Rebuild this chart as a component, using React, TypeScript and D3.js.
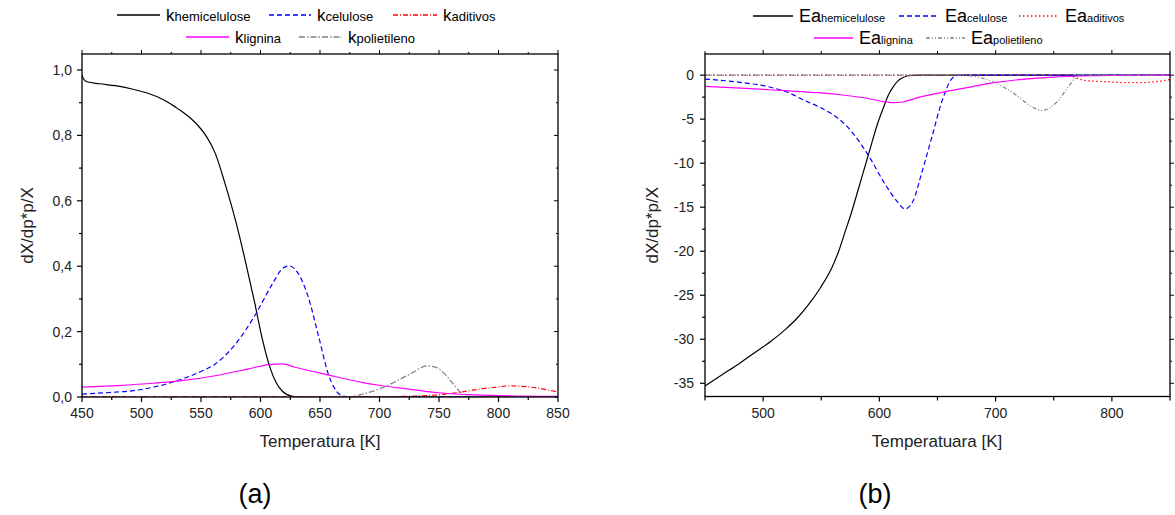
import React from "react";
import * as d3 from "d3";

type Pt = [number, number];

// ---------- Data: panel (a) k ----------
const kHemicelulose: Pt[] = [
  [450, 0.985], [451, 0.975], [454, 0.964], [465, 0.958], [478, 0.952], [492, 0.942], [506, 0.928],
  [518, 0.91], [528, 0.888], [536, 0.868], [542, 0.85], [548, 0.828], [554, 0.8], [562, 0.745],
  [570, 0.655], [579, 0.54], [587, 0.42], [595, 0.29], [602, 0.17], [608, 0.09], [613, 0.045],
  [618, 0.019], [622, 0.008], [627, 0.002], [632, 0.0003], [640, 0], [850, 0],
];
const kCelulose: Pt[] = [
  [450, 0.009], [470, 0.013], [492, 0.019], [510, 0.03], [534, 0.055], [550, 0.078], [562, 0.101],
  [579, 0.162], [596, 0.254], [610, 0.346], [618, 0.391], [624, 0.401], [632, 0.376], [640, 0.307],
  [649, 0.183], [657, 0.07], [662, 0.028], [666, 0.009], [672, 0.001], [680, 0], [850, 0],
];
const kAditivos: Pt[] = [
  [450, 0.001], [700, 0.001], [730, 0.003], [750, 0.007], [765, 0.013], [780, 0.022], [795, 0.029],
  [810, 0.034], [822, 0.032], [835, 0.026], [845, 0.019], [850, 0.015],
];
const kLignina: Pt[] = [
  [450, 0.03], [480, 0.035], [510, 0.042], [534, 0.05], [562, 0.065], [590, 0.086], [607, 0.099],
  [618, 0.101], [629, 0.091], [654, 0.07], [685, 0.045], [700, 0.036], [725, 0.024], [750, 0.013],
  [775, 0.007], [800, 0.004], [850, 0.002],
];
const kPolietileno: Pt[] = [
  [450, 0], [672, 0], [685, 0.008], [700, 0.025], [715, 0.05], [728, 0.075], [740, 0.095],
  [748, 0.09], [755, 0.07], [762, 0.04], [768, 0.015], [774, 0.002], [780, 0], [850, 0],
];

// ---------- Data: panel (b) Ea ----------
const eaHemicelulose: Pt[] = [
  [450, -35.3], [465, -34.0], [479, -32.8], [493, -31.5], [507, -30.2], [519, -28.9], [530, -27.5],
  [540, -25.9], [549, -24.2], [559, -21.9], [565, -20.0], [570, -18.0], [576, -15.6], [582, -12.9],
  [590, -9.3], [599, -5.3], [604, -3.5], [608, -2.2], [612, -1.3], [616, -0.65], [620, -0.3],
  [625, -0.07], [635, 0], [850, 0],
];
const eaCelulose: Pt[] = [
  [450, -0.45], [479, -0.8], [507, -1.4], [522, -2.0], [536, -2.9], [548, -3.6], [559, -4.4],
  [568, -5.3], [576, -6.4], [590, -9.0], [605, -12.4], [615, -14.3], [622, -15.2], [629, -14.3],
  [636, -11.3], [645, -7.1], [654, -2.9], [662, -0.45], [668, 0], [850, 0],
];
const eaAditivos: Pt[] = [
  [450, 0], [760, 0], [766, -0.15], [772, -0.45], [780, -0.65], [795, -0.75], [810, -0.85],
  [825, -0.85], [840, -0.7], [850, -0.5],
];
const eaLignina: Pt[] = [
  [450, -1.28], [485, -1.5], [519, -1.77], [545, -1.98], [565, -2.2], [588, -2.6], [606, -3.05],
  [613, -3.12], [620, -3.05], [633, -2.55], [656, -1.9], [680, -1.3], [702, -0.8], [725, -0.45],
  [750, -0.22], [775, -0.1], [800, -0.04], [850, 0],
];
const eaPolietileno: Pt[] = [
  [450, 0], [670, 0], [680, -0.1], [690, -0.4], [700, -0.9], [710, -1.6], [720, -2.5], [730, -3.5],
  [740, -4.0], [748, -3.6], [755, -2.7], [762, -1.4], [768, -0.4], [772, 0], [850, 0],
];

const xTicksA = [450, 500, 550, 600, 650, 700, 750, 800, 850];
const yTicksA = [0, 0.2, 0.4, 0.6, 0.8, 1.0];
const yTickLabelsA = ["0,0", "0,2", "0,4", "0,6", "0,8", "1,0"];
const xTicksB = [500, 600, 700, 800];
const yTicksB = [0, -5, -10, -15, -20, -25, -30, -35];

const FONT = "'Liberation Sans', Arial, sans-serif";

type Series = { data: Pt[]; color: string; dash?: string; main: string; sub: string };

const seriesA: Series[] = [
  { data: kHemicelulose, color: "#000000", main: "k", sub: "hemicelulose" },
  { data: kCelulose, color: "#0000ff", dash: "5,3", main: "k", sub: "celulose" },
  { data: kAditivos, color: "#ff0000", dash: "5,2,1,2", main: "k", sub: "aditivos" },
  { data: kLignina, color: "#ff00ff", main: "k", sub: "lignina" },
  { data: kPolietileno, color: "#808080", dash: "6,2,1.5,2", main: "k", sub: "polietileno" },
];
const seriesB: Series[] = [
  { data: eaHemicelulose, color: "#000000", main: "Ea", sub: "hemicelulose" },
  { data: eaCelulose, color: "#0000ff", dash: "5,3", main: "Ea", sub: "celulose" },
  { data: eaAditivos, color: "#ff0000", dash: "1.5,2.5", main: "Ea", sub: "aditivos" },
  { data: eaLignina, color: "#ff00ff", main: "Ea", sub: "lignina" },
  { data: eaPolietileno, color: "#808080", dash: "4,2,1,2,1,2", main: "Ea", sub: "polietileno" },
];

function range(a: number, b: number, step: number) {
  const out: number[] = [];
  for (let v = a; v <= b + 1e-9; v += step) out.push(+v.toFixed(6));
  return out;
}

function LegendItem({ x, y, s, lineLen, big, small }: { x: number; y: number; s: Series; lineLen: number; big: number; small: number }) {
  return (
    <g>
      <line x1={x} x2={x + lineLen} y1={y} y2={y} stroke={s.color} strokeWidth={1.3} strokeDasharray={s.dash} />
      <text x={x + lineLen + 6} y={y + 6} fontFamily={FONT} fill="#000">
        <tspan fontSize={big}>{s.main}</tspan>
        <tspan fontSize={small}>{s.sub}</tspan>
      </text>
    </g>
  );
}

export default function App() {
  const xA = d3.scaleLinear().domain([450, 850]).range([82, 558]);
  const yA = d3.scaleLinear().domain([0, 1.05]).range([397, 53.65]);
  const xB = d3.scaleLinear().domain([450, 850]).range([705, 1170]);
  const yB = d3.scaleLinear().domain([-36.5, 2.4]).range([396.5, 54]);

  const lineA = d3.line<Pt>().x((d) => xA(d[0])).y((d) => yA(d[1])).curve(d3.curveMonotoneX);
  const lineB = d3.line<Pt>().x((d) => xB(d[0])).y((d) => yB(d[1])).curve(d3.curveMonotoneX);

  const aL = 82, aR = 558, aT = 54, aB = 397;
  const bL = 705, bR = 1170, bT = 54, bB = 396.5;

  return (
    <svg width={1175} height={515} style={{ position: "absolute", left: 0, top: 0, background: "#fff" }}>
      <defs>
        <clipPath id="clipA"><rect x={aL} y={aT} width={aR - aL} height={aB - aT} /></clipPath>
        <clipPath id="clipB"><rect x={bL} y={bT} width={bR - bL} height={bB - bT} /></clipPath>
      </defs>

      {/* ---------- Panel A ---------- */}
      <g clipPath="url(#clipA)">
        {seriesA.map((s, i) => (
          <path key={i} d={lineA(s.data) || ""} fill="none" stroke={s.color} strokeWidth={1.2} strokeDasharray={s.dash} />
        ))}
      </g>
      <rect x={aL} y={aT} width={aR - aL} height={aB - aT} fill="none" stroke="#000" strokeWidth={1.3} />
      {range(450, 850, 25).map((v) => {
        const major = v % 50 === 0;
        return (
          <g key={"xa" + v}>
            <line x1={xA(v)} x2={xA(v)} y1={aB} y2={aB + (major ? 5 : 3)} stroke="#000" strokeWidth={1.2} />
            <line x1={xA(v)} x2={xA(v)} y1={aT} y2={aT - (major ? 4 : 2)} stroke="#000" strokeWidth={1} />
          </g>
        );
      })}
      {xTicksA.map((v) => (
        <text key={"xla" + v} x={xA(v)} y={418} textAnchor="middle" fontFamily={FONT} fontSize={14} fill="#222">{v}</text>
      ))}
      {range(0, 1.0, 0.1).map((v) => {
        const major = Math.round(v * 10) % 2 === 0;
        return (
          <g key={"ya" + v}>
            <line x1={aL} x2={aL - (major ? 5 : 3)} y1={yA(v)} y2={yA(v)} stroke="#000" strokeWidth={1.2} />
            <line x1={aR} x2={aR - (major ? 4 : 2)} y1={yA(v)} y2={yA(v)} stroke="#000" strokeWidth={1} />
          </g>
        );
      })}
      {yTicksA.map((v, i) => (
        <text key={"yla" + v} x={72} y={yA(v) + 5} textAnchor="end" fontFamily={FONT} fontSize={14} fill="#222">{yTickLabelsA[i]}</text>
      ))}
      <text x={320} y={447} textAnchor="middle" fontFamily={FONT} fontSize={17} fill="#222">Temperatura [K]</text>
      <text transform={`translate(29,${(aT + aB) / 2}) rotate(-90)`} textAnchor="middle" dominantBaseline="middle" fontFamily={FONT} fontSize={17} fill="#222">dX/dp*p/X</text>
      <text x={255} y={503} textAnchor="middle" fontFamily={FONT} fontSize={27} fill="#000">(a)</text>

      {/* Legend A */}
      <LegendItem x={117} y={15} s={seriesA[0]} lineLen={43} big={17} small={13} />
      <LegendItem x={269} y={15} s={seriesA[1]} lineLen={42} big={17} small={13} />
      <LegendItem x={393} y={15} s={seriesA[2]} lineLen={44} big={17} small={13} />
      <LegendItem x={186} y={37} s={seriesA[3]} lineLen={43} big={17} small={13} />
      <LegendItem x={299} y={37} s={seriesA[4]} lineLen={43} big={17} small={13} />

      {/* ---------- Panel B ---------- */}
      <g clipPath="url(#clipB)">
        {seriesB.map((s, i) => (
          <path key={i} d={lineB(s.data) || ""} fill="none" stroke={s.color} strokeWidth={1.2} strokeDasharray={s.dash} />
        ))}
      </g>
      <rect x={bL} y={bT} width={bR - bL} height={bB - bT} fill="none" stroke="#000" strokeWidth={1.3} />
      {range(450, 850, 50).map((v) => {
        const major = v % 100 === 0;
        return (
          <g key={"xb" + v}>
            <line x1={xB(v)} x2={xB(v)} y1={bB} y2={bB + (major ? 5 : 4)} stroke="#000" strokeWidth={1.2} />
            <line x1={xB(v)} x2={xB(v)} y1={bT} y2={bT - (major ? 4 : 3)} stroke="#000" strokeWidth={1} />
          </g>
        );
      })}
      {xTicksB.map((v) => (
        <text key={"xlb" + v} x={xB(v)} y={418} textAnchor="middle" fontFamily={FONT} fontSize={14} fill="#222">{v}</text>
      ))}
      {range(-35, 0, 2.5).map((v) => {
        const major = v % 5 === 0;
        return (
          <g key={"yb" + v}>
            <line x1={bL} x2={bL - (major ? 5 : 3)} y1={yB(v)} y2={yB(v)} stroke="#000" strokeWidth={1.2} />
            <line x1={bR} x2={bR + (major ? 4 : 2)} y1={yB(v)} y2={yB(v)} stroke="#000" strokeWidth={1} />
          </g>
        );
      })}
      {yTicksB.map((v) => (
        <text key={"ylb" + v} x={694} y={yB(v) + 5} textAnchor="end" fontFamily={FONT} fontSize={14} fill="#222">{v}</text>
      ))}
      <text x={937} y={447} textAnchor="middle" fontFamily={FONT} fontSize={17} fill="#222">Temperatuara [K]</text>
      <text transform={`translate(654,${(bT + bB) / 2}) rotate(-90)`} textAnchor="middle" dominantBaseline="middle" fontFamily={FONT} fontSize={17} fill="#222">dX/dp*p/X</text>
      <text x={875} y={503} textAnchor="middle" fontFamily={FONT} fontSize={27} fill="#000">(b)</text>

      {/* Legend B */}
      <LegendItem x={753} y={16} s={seriesB[0]} lineLen={40} big={18} small={11} />
      <LegendItem x={899} y={16} s={seriesB[1]} lineLen={40} big={18} small={11} />
      <LegendItem x={1019} y={16} s={seriesB[2]} lineLen={40} big={18} small={11} />
      <LegendItem x={814} y={38} s={seriesB[3]} lineLen={39} big={18} small={11} />
      <LegendItem x={926} y={38} s={seriesB[4]} lineLen={39} big={18} small={11} />
    </svg>
  );
}
